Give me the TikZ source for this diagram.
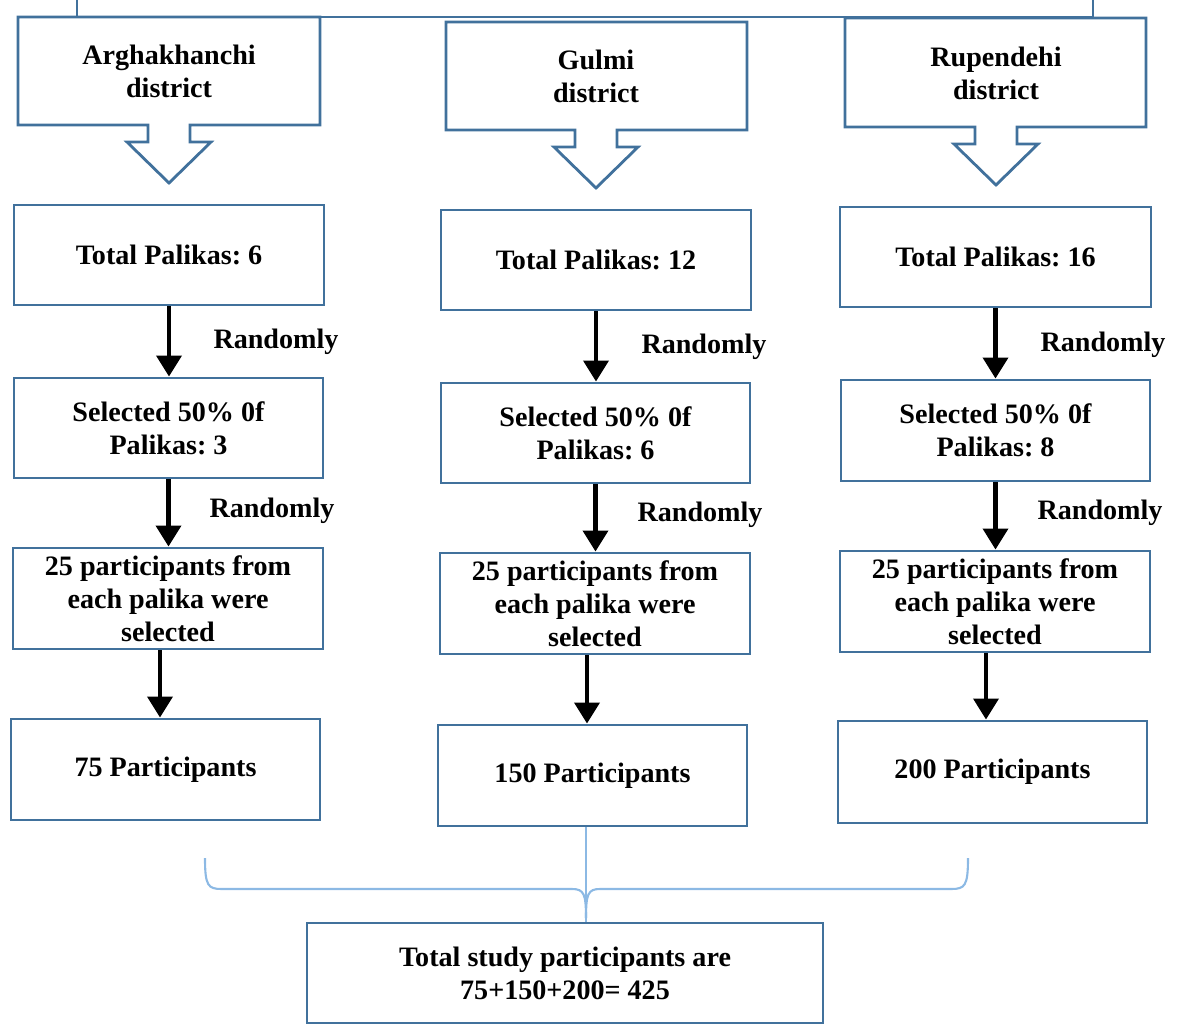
\documentclass[tikz,border=0pt]{standalone}
\usepackage{fontspec}
\setmainfont{Liberation Serif}
\frenchspacing
\usetikzlibrary{arrows.meta}
\definecolor{boxblue}{RGB}{65,113,156}
\definecolor{braceblue}{RGB}{140,185,228}
\tikzstyle{bx} = [draw=boxblue, line width=0.8pt, align=center, inner sep=0pt, font=\bfseries\fontsize{8}{9.4}\selectfont]
\tikzstyle{lbl} = [align=center, font=\bfseries\fontsize{8}{9.4}\selectfont]
\tikzstyle{cl} = [draw=boxblue, line width=0.8pt]
\tikzstyle{arr} = [-{Triangle[width=7pt,length=6pt]}, line width=1.4pt]

\begin{document}
\begin{tikzpicture}
			\useasboundingbox (0,0) rectangle (11.77,-10.24);
			% top line
			\draw[cl] (0.77,0) -- (0.77,-0.17) -- (10.93,-0.17) -- (10.93,0);
			% district callouts
			\draw[cl] (0.18,-0.17) -- (3.20,-0.17) -- (3.20,-1.25) -- (1.90,-1.25) -- (1.90,-1.42) -- (2.11,-1.42) -- (1.69,-1.83) -- (1.27,-1.42) -- (1.48,-1.42) -- (1.48,-1.25) -- (0.18,-1.25) -- cycle;
			\draw[cl] (4.46,-0.22) -- (7.47,-0.22) -- (7.47,-1.30) -- (6.17,-1.30) -- (6.17,-1.47) -- (6.38,-1.47) -- (5.96,-1.88) -- (5.54,-1.47) -- (5.75,-1.47) -- (5.75,-1.30) -- (4.46,-1.30) -- cycle;
			\draw[cl] (8.45,-0.18) -- (11.46,-0.18) -- (11.46,-1.27) -- (10.17,-1.27) -- (10.17,-1.44) -- (10.38,-1.44) -- (9.96,-1.85) -- (9.54,-1.44) -- (9.75,-1.44) -- (9.75,-1.27) -- (8.45,-1.27) -- cycle;
			\node[lbl] (d1) at (1.69,-0.71) {Arghakhanchi\\district};
			\node[lbl] (d2) at (5.96,-0.76) {Gulmi\\district};
			\node[lbl] (d3) at (9.96,-0.73) {Rupendehi\\district};
			% Arghakhanchi column
			\node[bx, minimum width=3.10cm, minimum height=1.00cm] (t1) at (1.69,-2.55) {Total Palikas: 6};
			\node[bx, minimum width=3.09cm, minimum height=1.00cm] (s1) at (1.685,-4.28) {Selected 50\% 0f\\Palikas: 3};
			\node[bx, minimum width=3.10cm, minimum height=1.01cm] (p1) at (1.68,-5.985) {25 participants from\\each palika were\\selected};
			\node[bx, minimum width=3.09cm, minimum height=1.01cm] (f1) at (1.655,-7.695) {75 Participants};
			% Gulmi column
			\node[bx, minimum width=3.10cm, minimum height=1.00cm] (t2) at (5.96,-2.60) {Total Palikas: 12};
			\node[bx, minimum width=3.09cm, minimum height=1.00cm] (s2) at (5.955,-4.33) {Selected 50\% 0f\\Palikas: 6};
			\node[bx, minimum width=3.10cm, minimum height=1.01cm] (p2) at (5.95,-6.035) {25 participants from\\each palika were\\selected};
			\node[bx, minimum width=3.09cm, minimum height=1.01cm] (f2) at (5.925,-7.755) {150 Participants};
			% Rupendehi column
			\node[bx, minimum width=3.11cm, minimum height=1.00cm] (t3) at (9.955,-2.57) {Total Palikas: 16};
			\node[bx, minimum width=3.09cm, minimum height=1.01cm] (s3) at (9.955,-4.305) {Selected 50\% 0f\\Palikas: 8};
			\node[bx, minimum width=3.10cm, minimum height=1.01cm] (p3) at (9.95,-6.015) {25 participants from\\each palika were\\selected};
			\node[bx, minimum width=3.09cm, minimum height=1.02cm] (f3) at (9.925,-7.72) {200 Participants};
			% total
			\node[bx, minimum width=5.16cm, minimum height=1.00cm] (tot) at (5.65,-9.73) {Total study participants are\\75+150+200= 425};
			% arrows
			\draw[arr] (t1.south) -- (t1.south |- s1.north);
			\draw[arr] (s1.south) -- (s1.south |- p1.north);
			\draw[arr] ([xshift=-0.08cm]p1.south) -- ([xshift=-0.08cm]p1.south |- f1.north);
			\draw[arr] (t2.south) -- (t2.south |- s2.north);
			\draw[arr] (s2.south) -- (s2.south |- p2.north);
			\draw[arr] ([xshift=-0.08cm]p2.south) -- ([xshift=-0.08cm]p2.south |- f2.north);
			\draw[arr] (t3.south) -- (t3.south |- s3.north);
			\draw[arr] (s3.south) -- (s3.south |- p3.north);
			\draw[arr] ([xshift=-0.09cm]p3.south) -- ([xshift=-0.09cm]p3.south |- f3.north);
			\node[lbl] (r1) at (2.76,-3.42) {Randomly};
			\node[lbl] (r2) at (2.72,-5.11) {Randomly};
			\node[lbl] (r3) at (7.04,-3.47) {Randomly};
			\node[lbl] (r4) at (7.00,-5.15) {Randomly};
			\node[lbl] (r5) at (11.03,-3.45) {Randomly};
			\node[lbl] (r6) at (11.00,-5.13) {Randomly};
			% brace
			\coordinate (brc) at (5.86,-9.18);
			\draw[braceblue, line width=0.6pt] (2.05,-8.58) .. controls (2.05,-8.86) and (2.08,-8.89) .. (2.22,-8.89) -- (5.72,-8.89) .. controls (5.84,-8.89) and (5.86,-8.94) .. (brc);
			\draw[braceblue, line width=0.6pt] (9.68,-8.58) .. controls (9.68,-8.86) and (9.65,-8.89) .. (9.51,-8.89) -- (6.00,-8.89) .. controls (5.88,-8.89) and (5.86,-8.94) .. (brc);
			\draw[braceblue, line width=0.6pt] (f2.south -| brc) -- (tot.north -| brc);
		\end{tikzpicture}
\end{document}
